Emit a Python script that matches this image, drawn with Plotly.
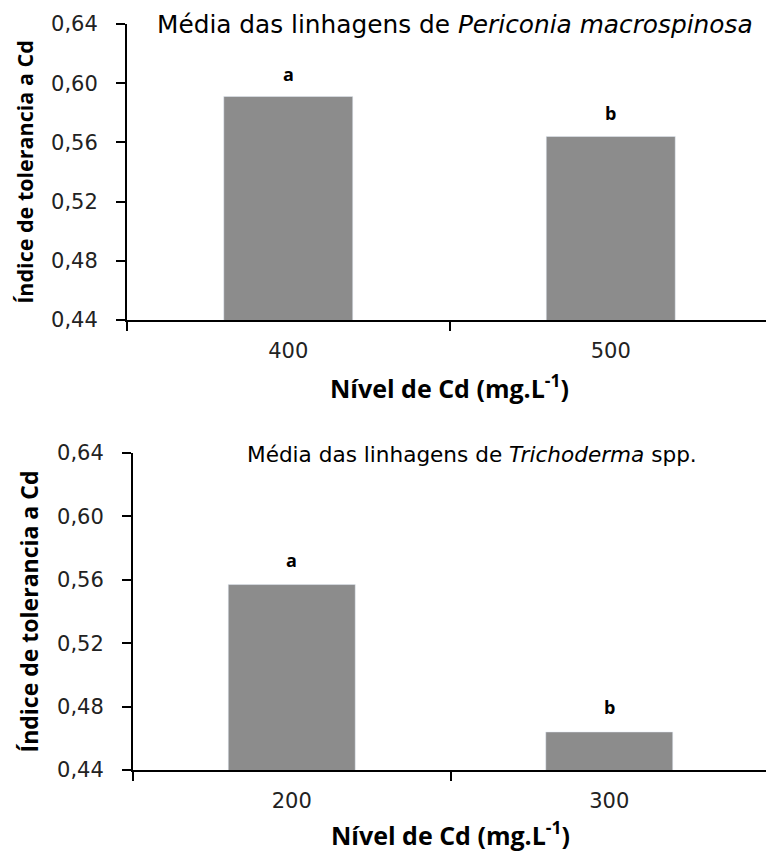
import plotly.graph_objects as go

# Data
cats_top = ["400", "500"]
vals_top = [0.591, 0.564]
letters_top = ["a", "b"]

cats_bot = ["200", "300"]
vals_bot = [0.557, 0.464]
letters_bot = ["a", "b"]

y_ticks = [0.44, 0.48, 0.52, 0.56, 0.60, 0.64]

title_top = "Média das linhagens de <i>Periconia macrospinosa</i>"
title_bot = "Média das linhagens de <i>Trichoderma</i> spp."
x_title = "<b>Nível de Cd (mg.L<sup>-1</sup>)</b>"
y_title = "<b>Índice de tolerancia a Cd</b>"

FONT = "DejaVu Sans"
FONT_B = "Open Sans"
BAR_COLOR = "#8c8c8c"
W, H = 774, 858
OFF = 8  # page body margin


def px(x):
    return (x - OFF) / W


def py(y):
    return 1 - (y - OFF) / H


fig = go.Figure()
fig.add_trace(go.Bar(x=cats_top, y=vals_top, marker_color=BAR_COLOR,
                     xaxis="x", yaxis="y", showlegend=False))
fig.add_trace(go.Bar(x=cats_bot, y=vals_bot, marker_color=BAR_COLOR,
                     xaxis="x2", yaxis="y2", showlegend=False))

annotations = []
for i, (v, l) in enumerate(zip(vals_top, letters_top)):
    annotations.append(dict(x=i, y=v, xref="x", yref="y", text=f"<b>{l}</b>",
                            showarrow=False, yanchor="bottom", yshift=9,
                            font=dict(family=FONT_B, size=18, color="black")))
for i, (v, l) in enumerate(zip(vals_bot, letters_bot)):
    annotations.append(dict(x=i, y=v, xref="x2", yref="y2", text=f"<b>{l}</b>",
                            showarrow=False, yanchor="bottom", yshift=11,
                            font=dict(family=FONT_B, size=18, color="black")))

annotations.append(dict(x=px(155), y=py(24), xref="paper", yref="paper",
                        text=title_top, showarrow=False, xanchor="left", yanchor="middle",
                        font=dict(family=FONT, size=24.8, color="black")))
annotations.append(dict(x=px(245), y=py(455), xref="paper", yref="paper",
                        text=title_bot, showarrow=False, xanchor="left", yanchor="middle",
                        font=dict(family=FONT, size=21.6, color="black")))


def xaxis_cfg(standoff):
    return dict(type="category", range=[-0.5, 1.5], tickson="boundaries",
                ticks="outside", ticklen=9, automargin=False,
                tickwidth=2, tickcolor="black", showline=True, linecolor="black",
                linewidth=2, showgrid=False, ticklabelstandoff=11, tickangle=0,
                tickfont=dict(family=FONT, size=21, color="#222"),
                title=dict(text=x_title, font=dict(family=FONT_B, size=25, color="black"),
                           standoff=standoff))


def yaxis_cfg(size, standoff):
    return dict(range=[0.44, 0.64], tickvals=y_ticks, tickformat=".2f",
                ticks="outside", ticklen=9, tickwidth=2, tickcolor="black",
                showline=True, linecolor="black", linewidth=2, showgrid=False,
                zeroline=False, automargin=False, ticklabelstandoff=14,
                tickfont=dict(family=FONT, size=21, color="#222"),
                title=dict(text=y_title, font=dict(family=FONT_B, size=size, color="black"),
                           standoff=standoff))


fig.update_layout(
    width=W, height=H,
    margin=dict(l=0, r=0, t=0, b=0, autoexpand=False),
    paper_bgcolor="white", plot_bgcolor="white",
    separators=",.",
    bargap=0.6,
    font=dict(family=FONT),
    xaxis=dict(domain=[px(127), px(772)], anchor="y", **xaxis_cfg(18)),
    yaxis=dict(domain=[py(320), py(24)], anchor="x", **yaxis_cfg(21.5, 12)),
    xaxis2=dict(domain=[px(133), px(768)], anchor="y2", **xaxis_cfg(15)),
    yaxis2=dict(domain=[py(770), py(453)], anchor="x2", **yaxis_cfg(23, 12)),
    annotations=annotations,
)

fig.write_html("out.html")
